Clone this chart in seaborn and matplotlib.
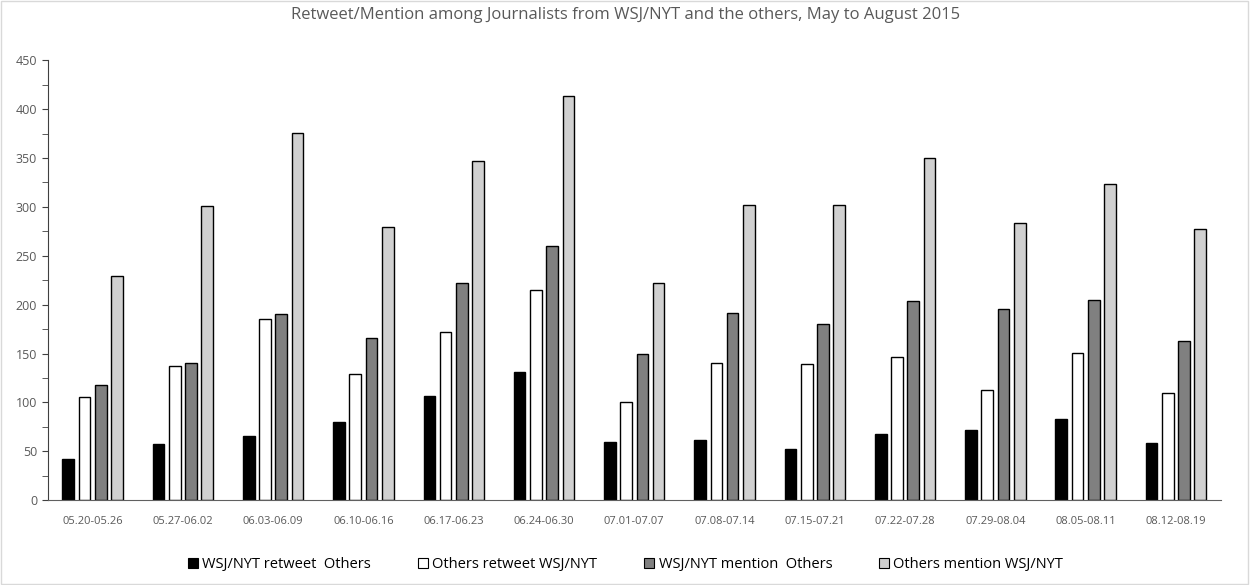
import matplotlib.pyplot as plt
import matplotlib.ticker as mticker
import seaborn as sns
import pandas as pd

weeks = ['05.20-05.26', '05.27-06.02', '06.03-06.09', '06.10-06.16', '06.17-06.23',
         '06.24-06.30', '07.01-07.07', '07.08-07.14', '07.15-07.21', '07.22-07.28',
         '07.29-08.04', '08.05-08.11', '08.12-08.19']
wsj_retweet_others = [42, 57, 66, 80, 107, 131, 60, 62, 52, 68, 72, 83, 58]
others_retweet_wsj = [106, 137, 185, 129, 172, 215, 100, 140, 139, 146, 113, 151, 110]
wsj_mention_others = [118, 140, 190, 166, 222, 260, 150, 191, 180, 204, 196, 205, 163]
others_mention_wsj = [229, 301, 376, 279, 347, 413, 222, 302, 302, 350, 284, 323, 277]

series_names = ['WSJ/NYT retweet  Others', 'Others retweet WSJ/NYT',
                'WSJ/NYT mention  Others', 'Others mention WSJ/NYT']
colors = ['#000000', '#ffffff', '#808080', '#d0d0d0']

df = pd.DataFrame({
    'week': weeks * 4,
    'series': [s for s in series_names for _ in weeks],
    'count': wsj_retweet_others + others_retweet_wsj + wsj_mention_others + others_mention_wsj,
})

sns.set_style('white')
plt.rcParams['font.family'] = ['Open Sans', 'DejaVu Sans']
text_color = '#595959'

fig, ax = plt.subplots(figsize=(12.51, 5.85), dpi=100)
fig.subplots_adjust(left=0.038, right=0.976, top=0.897, bottom=0.145)

sns.barplot(data=df, x='week', y='count', hue='series', hue_order=series_names,
            palette=colors, width=0.72, gap=0.28, edgecolor='black', linewidth=1.0,
            ax=ax, legend=False)

ax.set_ylim(0, 450)
ax.set_xlim(-0.5, len(weeks) - 0.5)
ax.yaxis.set_major_locator(mticker.MultipleLocator(50))
ax.yaxis.set_minor_locator(mticker.MultipleLocator(25))
ax.tick_params(axis='y', which='both', direction='out', left=True, color='#404040',
               labelsize=9, labelcolor=text_color, length=4)
ax.tick_params(axis='x', bottom=False, labelsize=8, labelcolor=text_color, pad=8)
ax.set_xlabel('')
ax.set_ylabel('')
for side in ['top', 'right']:
    ax.spines[side].set_visible(False)
ax.spines['left'].set_color('#404040')
ax.spines['bottom'].set_color('#606060')

fig.text(0.5, 1 - 15 / 585,
         'Retweet/Mention among Journalists from WSJ/NYT and the others, May to August 2015',
         ha='center', va='center', fontsize=12, color=text_color)

handles = [plt.Rectangle((0, 0), 1, 1, facecolor=c, edgecolor='black', linewidth=0.8)
           for c in colors]
fig.legend(handles, series_names, loc='lower center', ncol=4, frameon=False,
           bbox_to_anchor=(0.5, 0.0), fontsize=10.5, labelcolor='black',
           handlelength=0.7, handleheight=0.7, handletextpad=0.3, columnspacing=3.2)

fig.patches.append(plt.Rectangle((0.001, 0.002), 0.997, 0.996, transform=fig.transFigure,
                                 fill=False, edgecolor='#d9d9d9', linewidth=1))

fig.savefig('out.png', dpi=100)
